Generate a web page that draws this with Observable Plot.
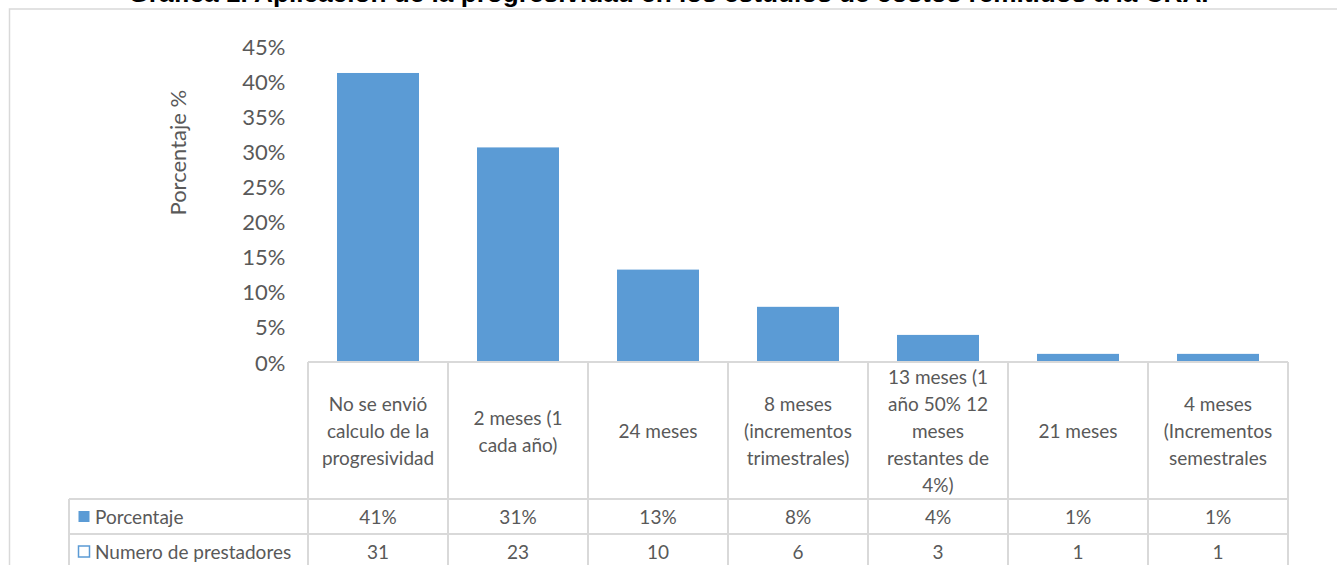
<!DOCTYPE html>
<html><head><meta charset="utf-8">
<script src="https://cdn.jsdelivr.net/npm/d3@7"></script>
<script src="https://cdn.jsdelivr.net/npm/@observablehq/plot@0.6"></script>
<style>
html,body{margin:0;padding:0;background:#fff;overflow:hidden}
#wrap{position:relative;width:1337px;height:565px;overflow:hidden}
#title{position:absolute;left:0;width:1337px;top:-20px;text-align:center;font:bold 26.2px/1 "Liberation Sans",Arial,sans-serif;color:#000;white-space:nowrap}
#chart{position:absolute;left:0;top:0}
</style></head><body>
<div id="wrap"><div id="chart"></div><div id="title">Gráfica 1. Aplicación de la progresividad en los estudios de costos remitidos a la CRA.</div></div>
<script>
// ---- data ----
const categories = [
  "No se envió calculo de la progresividad",
  "2 meses (1 cada año)",
  "24 meses",
  "8 meses (incrementos trimestrales)",
  "13 meses (1 año 50% 12 meses restantes de 4%)",
  "21 meses",
  "4 meses (Incrementos semestrales"
];
const categoryLabels = [
  ["No se envió", "calculo de la", "progresividad"],
  ["2 meses (1", "cada año)"],
  ["24 meses"],
  ["8 meses", "(incrementos", "trimestrales)"],
  ["13 meses (1", "año 50% 12", "meses", "restantes de", "4%)"],
  ["21 meses"],
  ["4 meses", "(Incrementos", "semestrales"]
];
const porcentaje = [41.3, 30.7, 13.3, 8.0, 4.0, 1.3, 1.3];
const porcentajeLabels = ["41%", "31%", "13%", "8%", "4%", "1%", "1%"];
const prestadores = [31, 23, 10, 6, 3, 1, 1];
const seriesNames = ["Porcentaje", "Numero de prestadores"];
const yTicks = [0, 5, 10, 15, 20, 25, 30, 35, 40, 45];
const yAxisTitle = "Porcentaje %";

// ---- chart ----
const barColor = "#5b9bd5";
const grid = "#d9d9d9";
const textColor = "#595959";
const font = "Lato, 'Open Sans', sans-serif";

const data = categories.map((c, i) => ({cat: c, pct: porcentaje[i]}));

const plot = Plot.plot({
  width: 1337, height: 565,
  marginLeft: 308, marginRight: 49, marginTop: 47, marginBottom: 202,
  style: {fontFamily: font, color: textColor, background: "transparent", overflow: "visible"},
  x: {type: "band", domain: categories, paddingInner: 0.414, paddingOuter: 0.207, axis: null},
  y: {domain: [0, 45], axis: null},
  marks: [
    Plot.axisY({ticks: yTicks, tickSize: 0, tickPadding: 23, tickFormat: d => d + "%", fontSize: 22, fill: textColor, label: null}),
    Plot.barY(data, {x: "cat", y: "pct", fill: barColor}),
    Plot.text([yAxisTitle], {frameAnchor: "left", rotate: -90, dx: -130, dy: 10, fontSize: 22, fill: textColor, text: d => d})
  ]
});
document.getElementById("chart").appendChild(plot);

// ---- data table under the axis, positioned with Plot's scales ----
const xs = plot.scale("x");
const ys = plot.scale("y");
const svg = d3.select(plot);
const step = xs.step, bw = xs.bandwidth;
const colLeft = c => xs.apply(c) - (step - bw) / 2;
const tableTop = ys.apply(0) - 1;
const catRowH = 137, rowH = 35;
const row1 = tableTop + catRowH, row2 = row1 + rowH, row3 = row2 + rowH;
const tableLeft = 69;
const right = colLeft(categories[categories.length - 1]) + step;

const g = svg.append("g").attr("text-anchor", "start");
// outer chart frame
g.append("rect").attr("x", 9.5).attr("y", 9).attr("width", 1400).attr("height", 700)
  .attr("fill", "none").attr("stroke", grid).attr("stroke-width", 1.5);
// horizontal rules
const hl = (x1, x2, y) => g.append("line").attr("x1", x1).attr("x2", x2).attr("y1", y).attr("y2", y)
  .attr("stroke", grid).attr("stroke-width", 2);
hl(colLeft(categories[0]), right, tableTop);
hl(tableLeft, right, row1);
hl(tableLeft, right, row2);
hl(tableLeft, right, row3);
// vertical rules
const vl = (x, y1, y2) => g.append("line").attr("x1", x).attr("x2", x).attr("y1", y1).attr("y2", y2)
  .attr("stroke", grid).attr("stroke-width", 2);
categories.forEach(c => vl(colLeft(c), tableTop, 600));
vl(right, tableTop, 600);
vl(tableLeft, row1, 600);

const tfont = 19;
// category labels
categories.forEach((c, i) => {
  const lines = categoryLabels[i];
  const cx = xs.apply(c) + bw / 2;
  const cy = tableTop + catRowH / 2;
  const lh = 27;
  lines.forEach((ln, j) => {
    g.append("text").attr("x", cx).attr("y", cy + (j - (lines.length - 1) / 2) * lh)
      .attr("text-anchor", "middle").attr("dominant-baseline", "central")
      .attr("font-family", font).attr("font-size", tfont).attr("fill", textColor).text(ln);
  });
});
// series rows
const rows = [
  {name: seriesNames[0], vals: porcentajeLabels, y: (row1 + row2) / 2, filled: true},
  {name: seriesNames[1], vals: prestadores.map(String), y: (row2 + row3) / 2, filled: false}
];
rows.forEach(r => {
  g.append("rect").attr("x", 78.5).attr("y", r.y - 5.5).attr("width", 11).attr("height", 11)
    .attr("fill", r.filled ? barColor : "#fff").attr("stroke", barColor).attr("stroke-width", r.filled ? 0 : 1.5);
  g.append("text").attr("x", 95).attr("y", r.y).attr("text-anchor", "start").attr("dominant-baseline", "central")
    .attr("font-family", font).attr("font-size", tfont).attr("fill", textColor).text(r.name);
  categories.forEach((c, i) => {
    g.append("text").attr("x", xs.apply(c) + bw / 2).attr("y", r.y)
      .attr("text-anchor", "middle").attr("dominant-baseline", "central")
      .attr("font-family", font).attr("font-size", tfont).attr("fill", textColor).text(r.vals[i]);
  });
});
</script>
</body></html>
